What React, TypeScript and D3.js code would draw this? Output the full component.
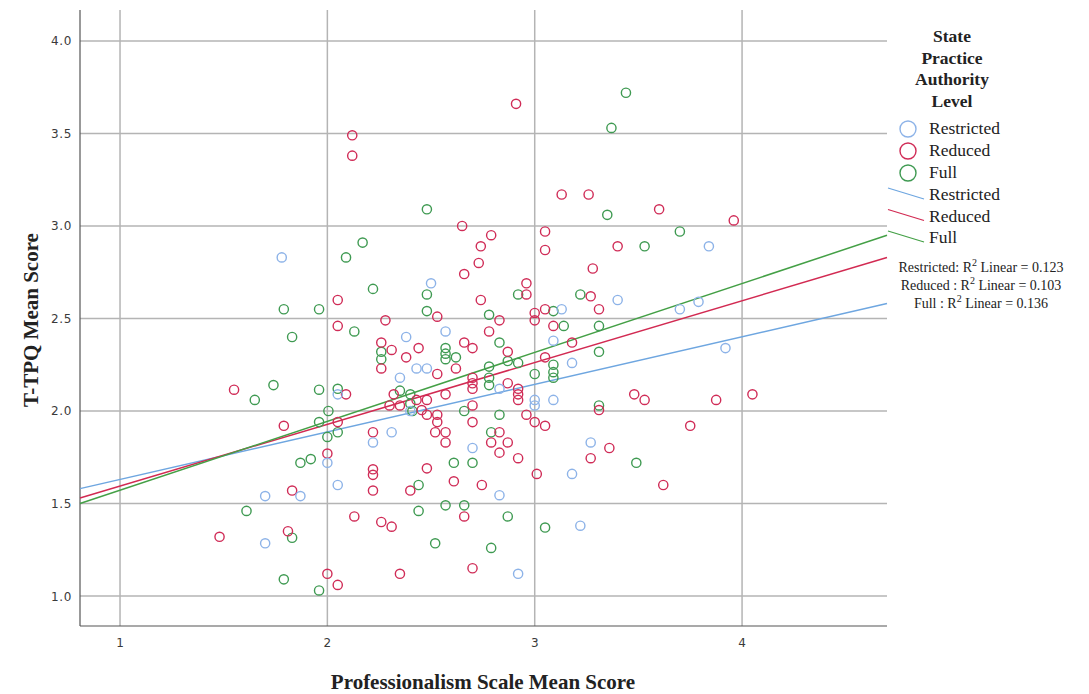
import React, { useEffect, useRef } from "react";
import * as d3 from "d3";

// points, [professionalism, T-TPQ]
const restrictedPoints: [number, number][] = [
  [1.78, 2.83], [2.38, 2.40], [2.35, 2.18], [2.05, 2.09], [2.50, 2.69], [3.13, 2.55],
  [3.40, 2.60], [2.57, 2.43], [3.09, 2.38], [2.43, 2.23], [2.48, 2.23], [3.18, 2.26],
  [2.83, 2.12], [3.00, 2.06], [3.00, 2.03], [3.09, 2.06], [3.84, 2.89], [3.79, 2.59],
  [3.70, 2.55], [3.92, 2.34], [2.00, 1.72], [2.31, 1.885], [2.22, 1.83], [2.05, 1.60],
  [1.70, 1.54], [1.87, 1.54], [1.70, 1.285], [2.70, 1.80], [2.83, 1.545], [3.22, 1.38],
  [2.92, 1.12], [3.18, 1.66], [3.27, 1.83], [2.40, 2.00],
];

const reducedPoints: [number, number][] = [
  [2.12, 3.49], [2.12, 3.38], [2.91, 3.66], [3.13, 3.17], [3.26, 3.17], [3.60, 3.09],
  [3.96, 3.03], [2.65, 3.00], [3.05, 2.97], [3.05, 2.87], [2.74, 2.89], [2.79, 2.95],
  [3.40, 2.89], [2.05, 2.60], [2.05, 2.46], [2.28, 2.49], [2.26, 2.37], [2.31, 2.33],
  [2.26, 2.23], [2.38, 2.29], [2.32, 2.09], [2.30, 2.03], [2.35, 2.03], [1.55, 2.115],
  [2.09, 2.09], [2.05, 1.94], [1.79, 1.92], [2.73, 2.80], [2.66, 2.74], [3.28, 2.77],
  [2.96, 2.69], [2.96, 2.63], [2.74, 2.60], [3.27, 2.62], [3.31, 2.55], [2.53, 2.51],
  [2.83, 2.49], [3.00, 2.53], [3.00, 2.49], [3.05, 2.55], [3.09, 2.46], [2.78, 2.43],
  [2.44, 2.34], [2.66, 2.37], [2.70, 2.34], [3.18, 2.37], [2.87, 2.32], [3.05, 2.29],
  [2.62, 2.23], [2.53, 2.20], [2.70, 2.18], [2.70, 2.15], [2.87, 2.15], [2.92, 2.12],
  [2.92, 2.09], [2.92, 2.06], [2.57, 2.09], [2.70, 2.12], [2.48, 2.06], [2.43, 2.06],
  [2.70, 2.03], [2.455, 2.005], [2.48, 1.98], [2.53, 1.98], [2.53, 1.94], [2.70, 1.94],
  [2.96, 1.98], [3.00, 1.94], [3.05, 1.92], [3.48, 2.09], [3.53, 2.06], [3.31, 2.005],
  [3.875, 2.06], [4.05, 2.09], [3.75, 1.92], [2.00, 1.77], [2.22, 1.885], [2.22, 1.685],
  [2.22, 1.655], [2.22, 1.57], [1.83, 1.57], [1.48, 1.32], [1.81, 1.35], [2.00, 1.12],
  [2.05, 1.06], [2.52, 1.885], [2.57, 1.885], [2.57, 1.83], [2.48, 1.69], [2.40, 1.57],
  [2.13, 1.43], [2.26, 1.40], [2.31, 1.375], [2.35, 1.12], [2.83, 1.885], [2.79, 1.83],
  [2.87, 1.83], [2.83, 1.775], [2.92, 1.745], [2.61, 1.62], [2.745, 1.60], [3.01, 1.66],
  [2.66, 1.43], [2.70, 1.15], [3.36, 1.80], [3.27, 1.745], [3.62, 1.60],
];

const fullPoints: [number, number][] = [
  [3.44, 3.72], [3.37, 3.53], [2.48, 3.09], [3.35, 3.06], [2.17, 2.91], [3.70, 2.97],
  [3.53, 2.89], [2.09, 2.83], [2.22, 2.66], [1.79, 2.55], [1.96, 2.55], [2.13, 2.43],
  [1.83, 2.40], [2.26, 2.32], [2.26, 2.28], [2.35, 2.11], [1.74, 2.14], [1.65, 2.06],
  [1.96, 2.115], [2.05, 2.12], [2.005, 2.00], [1.96, 1.94], [2.48, 2.63], [2.92, 2.63],
  [3.22, 2.63], [2.48, 2.54], [2.78, 2.52], [3.09, 2.54], [3.14, 2.46], [3.31, 2.46],
  [2.83, 2.37], [2.57, 2.34], [2.57, 2.31], [2.57, 2.28], [2.62, 2.29], [3.31, 2.32],
  [2.78, 2.24], [2.87, 2.27], [2.92, 2.26], [3.09, 2.25], [3.00, 2.20], [2.78, 2.18],
  [2.78, 2.14], [3.09, 2.21], [3.09, 2.18], [2.66, 2.00], [2.83, 1.98], [2.41, 2.00],
  [3.31, 2.03], [2.40, 2.09], [2.40, 2.04], [2.00, 1.86], [2.05, 1.885], [1.87, 1.72],
  [1.92, 1.74], [1.61, 1.46], [1.83, 1.315], [1.79, 1.09], [1.96, 1.03], [2.44, 1.60],
  [2.44, 1.46], [2.57, 1.49], [2.52, 1.285], [2.79, 1.885], [2.61, 1.72], [2.70, 1.72],
  [2.66, 1.49], [2.87, 1.43], [3.05, 1.37], [2.79, 1.26], [3.49, 1.72],
];

const groups = ["Restricted", "Reduced", "Full"];
// fit lines: [intercept, slope]
const fitLines: [number, number][] = [[1.373, 0.257], [1.26, 0.334], [1.199, 0.3725]];
const rSquared = ["0.123", "0.103", "0.136"];
const xTicks = [1, 2, 3, 4];
const yTicks = [1.0, 1.5, 2.0, 2.5, 3.0, 3.5, 4.0];

const pointColors = ["#8db3e8", "#d02c57", "#3f9a52"];
const lineColors = ["#6ea6e0", "#d22a52", "#44a046"];

export default function App() {
  const ref = useRef<SVGSVGElement>(null);

  useEffect(() => {
    const svg = d3.select(ref.current);
    svg.selectAll("*").remove();

    const left = 80, right = 887, top = 8, bottom = 626;
    const x = d3.scaleLinear().domain([0.807, 4.699]).range([left, right]);
    const y = d3.scaleLinear().domain([0.838, 4.178]).range([bottom, top]);
    const serif = "Liberation Serif, Times New Roman, serif";
    const sans = "DejaVu Sans, Verdana, sans-serif";

    // grid
    svg.append("g").selectAll("line").data(yTicks).join("line")
      .attr("x1", left).attr("x2", right)
      .attr("y1", d => y(d)).attr("y2", d => y(d))
      .attr("stroke", "#b4b4b4").attr("stroke-width", 1.5);
    svg.append("g").selectAll("line").data(xTicks).join("line")
      .attr("x1", d => x(d)).attr("x2", d => x(d))
      .attr("y1", top + 2).attr("y2", bottom)
      .attr("stroke", "#b4b4b4").attr("stroke-width", 1.5);

    // axes
    svg.append("line").attr("x1", left).attr("x2", left).attr("y1", top + 2).attr("y2", bottom)
      .attr("stroke", "#555").attr("stroke-width", 1.2);
    svg.append("line").attr("x1", left).attr("x2", right).attr("y1", bottom).attr("y2", bottom)
      .attr("stroke", "#555").attr("stroke-width", 1.2);

    svg.append("g").selectAll("text").data(yTicks).join("text")
      .attr("x", left - 8).attr("y", d => y(d) + 4.5)
      .attr("text-anchor", "end").attr("font-family", sans)
      .attr("font-size", 12).attr("letter-spacing", 0.6).attr("fill", "#3a3a3a")
      .text(d => d.toFixed(1));
    svg.append("g").selectAll("text").data(xTicks).join("text")
      .attr("x", d => x(d)).attr("y", bottom + 21)
      .attr("text-anchor", "middle").attr("font-family", sans)
      .attr("font-size", 12).attr("fill", "#3a3a3a")
      .text(d => String(d));

    svg.append("text").attr("x", 483).attr("y", 689)
      .attr("text-anchor", "middle").attr("font-family", serif)
      .attr("font-weight", "bold").attr("font-size", 21).attr("fill", "#222")
      .text("Professionalism Scale Mean Score");
    svg.append("text").attr("transform", "translate(38,320) rotate(-90)")
      .attr("text-anchor", "middle").attr("font-family", serif)
      .attr("font-weight", "bold").attr("font-size", 21).attr("fill", "#222")
      .text("T-TPQ Mean Score");

    // fit lines
    const xd = x.domain();
    fitLines.forEach(([a, b], i) => {
      svg.append("line")
        .attr("x1", x(xd[0])).attr("y1", y(a + b * xd[0]))
        .attr("x2", x(xd[1])).attr("y2", y(a + b * xd[1]))
        .attr("stroke", lineColors[i]).attr("stroke-width", 1.5);
    });

    // points
    const series = [fullPoints, reducedPoints, restrictedPoints];
    const seriesColor = [pointColors[2], pointColors[1], pointColors[0]];
    series.forEach((pts, i) => {
      svg.append("g").selectAll("circle").data(pts).join("circle")
        .attr("cx", d => x(d[0])).attr("cy", d => y(d[1])).attr("r", 4.6)
        .attr("fill", "none").attr("stroke", seriesColor[i]).attr("stroke-width", 1.4);
    });

    // legend
    const title = ["State", "Practice", "Authority", "Level"];
    svg.append("g").selectAll("text").data(title).join("text")
      .attr("x", 952).attr("y", (d, i) => 42 + i * 21.5)
      .attr("text-anchor", "middle").attr("font-family", serif)
      .attr("font-weight", "bold").attr("font-size", 17.5).attr("fill", "#222")
      .text(d => d);

    groups.forEach((g, i) => {
      const cy = 129 + i * 22;
      svg.append("circle").attr("cx", 908).attr("cy", cy).attr("r", 8)
        .attr("fill", "none").attr("stroke", pointColors[i]).attr("stroke-width", 1.4);
      svg.append("text").attr("x", 929).attr("y", cy + 5)
        .attr("font-family", serif).attr("font-size", 17.5).attr("fill", "#222").text(g);
    });
    groups.forEach((g, i) => {
      const ly = 195 + i * 21.5;
      svg.append("line").attr("x1", 888).attr("y1", ly - 7).attr("x2", 924).attr("y2", ly + 4)
        .attr("stroke", lineColors[i]).attr("stroke-width", 1.3);
      svg.append("text").attr("x", 929).attr("y", ly + 5)
        .attr("font-family", serif).attr("font-size", 17.5).attr("fill", "#222").text(g);
    });

    const rLabels = ["Restricted: ", "Reduced : ", "Full : "];
    rLabels.forEach((lab, i) => {
      const t = svg.append("text").attr("x", 981).attr("y", 272 + i * 18)
        .attr("text-anchor", "middle").attr("font-family", serif)
        .attr("font-size", 14).attr("fill", "#222");
      t.append("tspan").text(lab + "R");
      t.append("tspan").attr("dy", -6).attr("font-size", 10).text("2");
      t.append("tspan").attr("dy", 6).text(" Linear = " + rSquared[i]);
    });
  }, []);

  return (
    <svg ref={ref} width={1089} height={694}
      style={{ position: "absolute", left: 0, top: 0, background: "#fff" }} />
  );
}
